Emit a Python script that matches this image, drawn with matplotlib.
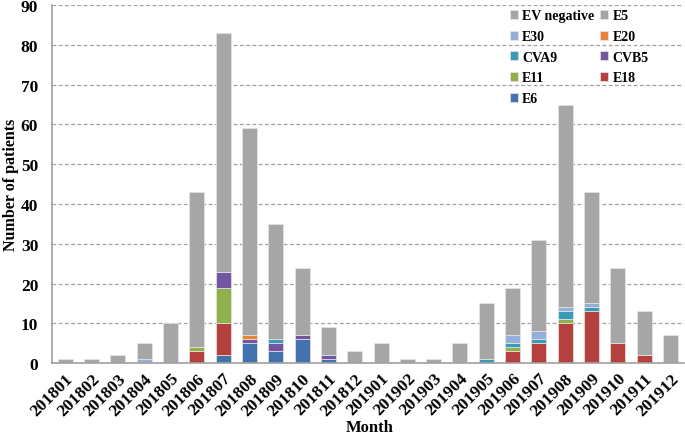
import numpy as np
import matplotlib.pyplot as plt

months = ['201801', '201802', '201803', '201804', '201805', '201806',
          '201807', '201808', '201809', '201810', '201811', '201812',
          '201901', '201902', '201903', '201904', '201905', '201906',
          '201907', '201908', '201909', '201910', '201911', '201912']

# counts per month, stacked bottom to top
e6 = [0, 0, 0, 0, 0, 0, 2, 5, 3, 6, 1, 0, 0, 0, 0, 0, 0, 0, 0, 0, 0, 0, 0, 0]
e18 = [0, 0, 0, 0, 0, 3, 8, 0, 0, 0, 0, 0, 0, 0, 0, 0, 0, 3, 5, 10, 13, 5, 2, 0]
e11 = [0, 0, 0, 0, 0, 1, 9, 0, 0, 0, 0, 0, 0, 0, 0, 0, 0, 1, 0, 1, 0, 0, 0, 0]
cvb5 = [0, 0, 0, 0, 0, 0, 4, 1, 2, 1, 1, 0, 0, 0, 0, 0, 0, 0, 0, 0, 0, 0, 0, 0]
cva9 = [0, 0, 0, 0, 0, 0, 0, 0, 1, 0, 0, 0, 0, 0, 0, 0, 1, 1, 1, 2, 1, 0, 0, 0]
e20 = [0, 0, 0, 0, 0, 0, 0, 1, 0, 0, 0, 0, 0, 0, 0, 0, 0, 0, 0, 0, 0, 0, 0, 0]
e30 = [0, 0, 0, 1, 0, 0, 0, 0, 0, 0, 0, 0, 0, 0, 0, 0, 0, 2, 2, 1, 1, 0, 0, 0]
e5 = [0] * 24
ev_negative = [1, 1, 2, 4, 10, 39, 60, 52, 29, 17, 7, 3,
               5, 1, 1, 5, 14, 12, 23, 51, 28, 19, 11, 7]

series = [
    ('E6', e6, '#4472AE'),
    ('E18', e18, '#B5403D'),
    ('E11', e11, '#8FB04D'),
    ('CVB5', cvb5, '#7257A0'),
    ('CVA9', cva9, '#3A9BB4'),
    ('E20', e20, '#E8843A'),
    ('E30', e30, '#95AEDA'),
    ('E5', e5, '#A6A6A6'),
    ('EV negative', ev_negative, '#A6A6A6'),
]

plt.rcParams['font.family'] = 'Liberation Serif'
plt.rcParams['font.weight'] = 'bold'

fig = plt.figure(figsize=(6.85, 4.35), dpi=100)
ax = fig.add_axes([0.076, 0.163, 0.922, 0.823])

x = np.arange(len(months))
bottom = np.zeros(len(months))
handles = {}
for name, vals, color in series:
    vals = np.array(vals, dtype=float)
    b = ax.bar(x, vals, 0.57, bottom=bottom, color=color,
               edgecolor='#e6e6e6', linewidth=0.5, label=name, zorder=2)
    handles[name] = b
    bottom += vals

ax.set_xlim(-0.5, len(months) - 0.5)
ax.set_ylim(0, 90)
ax.set_yticks(range(0, 91, 10))
ax.set_xticks(x)
ax.set_xticklabels(months, rotation=45, ha='right', rotation_mode='anchor')
ax.tick_params(axis='both', length=0, labelsize=12.5)
ax.tick_params(axis='y', pad=10)
ax.tick_params(axis='x', pad=5)
ax.yaxis.grid(True, linestyle=(0, (3, 2)), color='#a0a0a0', linewidth=0.9, zorder=0)
ax.set_axisbelow(True)

for s in ['top', 'right']:
    ax.spines[s].set_visible(False)
for s in ['left', 'bottom']:
    ax.spines[s].set_color('#a0a0a0')
    ax.spines[s].set_linewidth(1.2)

ax.set_ylabel('Number of patients', fontsize=11.5, fontweight='bold')
ax.yaxis.set_label_coords(-0.053, 0.5)
ax.set_xlabel('Month', fontsize=12, fontweight='bold')
ax.xaxis.set_label_coords(0.503, -0.155)

order = ['EV negative', 'E30', 'CVA9', 'E11', 'E6', 'E5', 'E20', 'CVB5', 'E18']
ax.legend([handles[n] for n in order], order, ncol=2, loc='upper right',
          bbox_to_anchor=(0.96, 1.015), frameon=False, fontsize=10,
          handlelength=0.6, handleheight=0.6, handletextpad=0.3,
          columnspacing=0.4, labelspacing=0.55, borderpad=0.2)

plt.savefig('out.png', dpi=100)
